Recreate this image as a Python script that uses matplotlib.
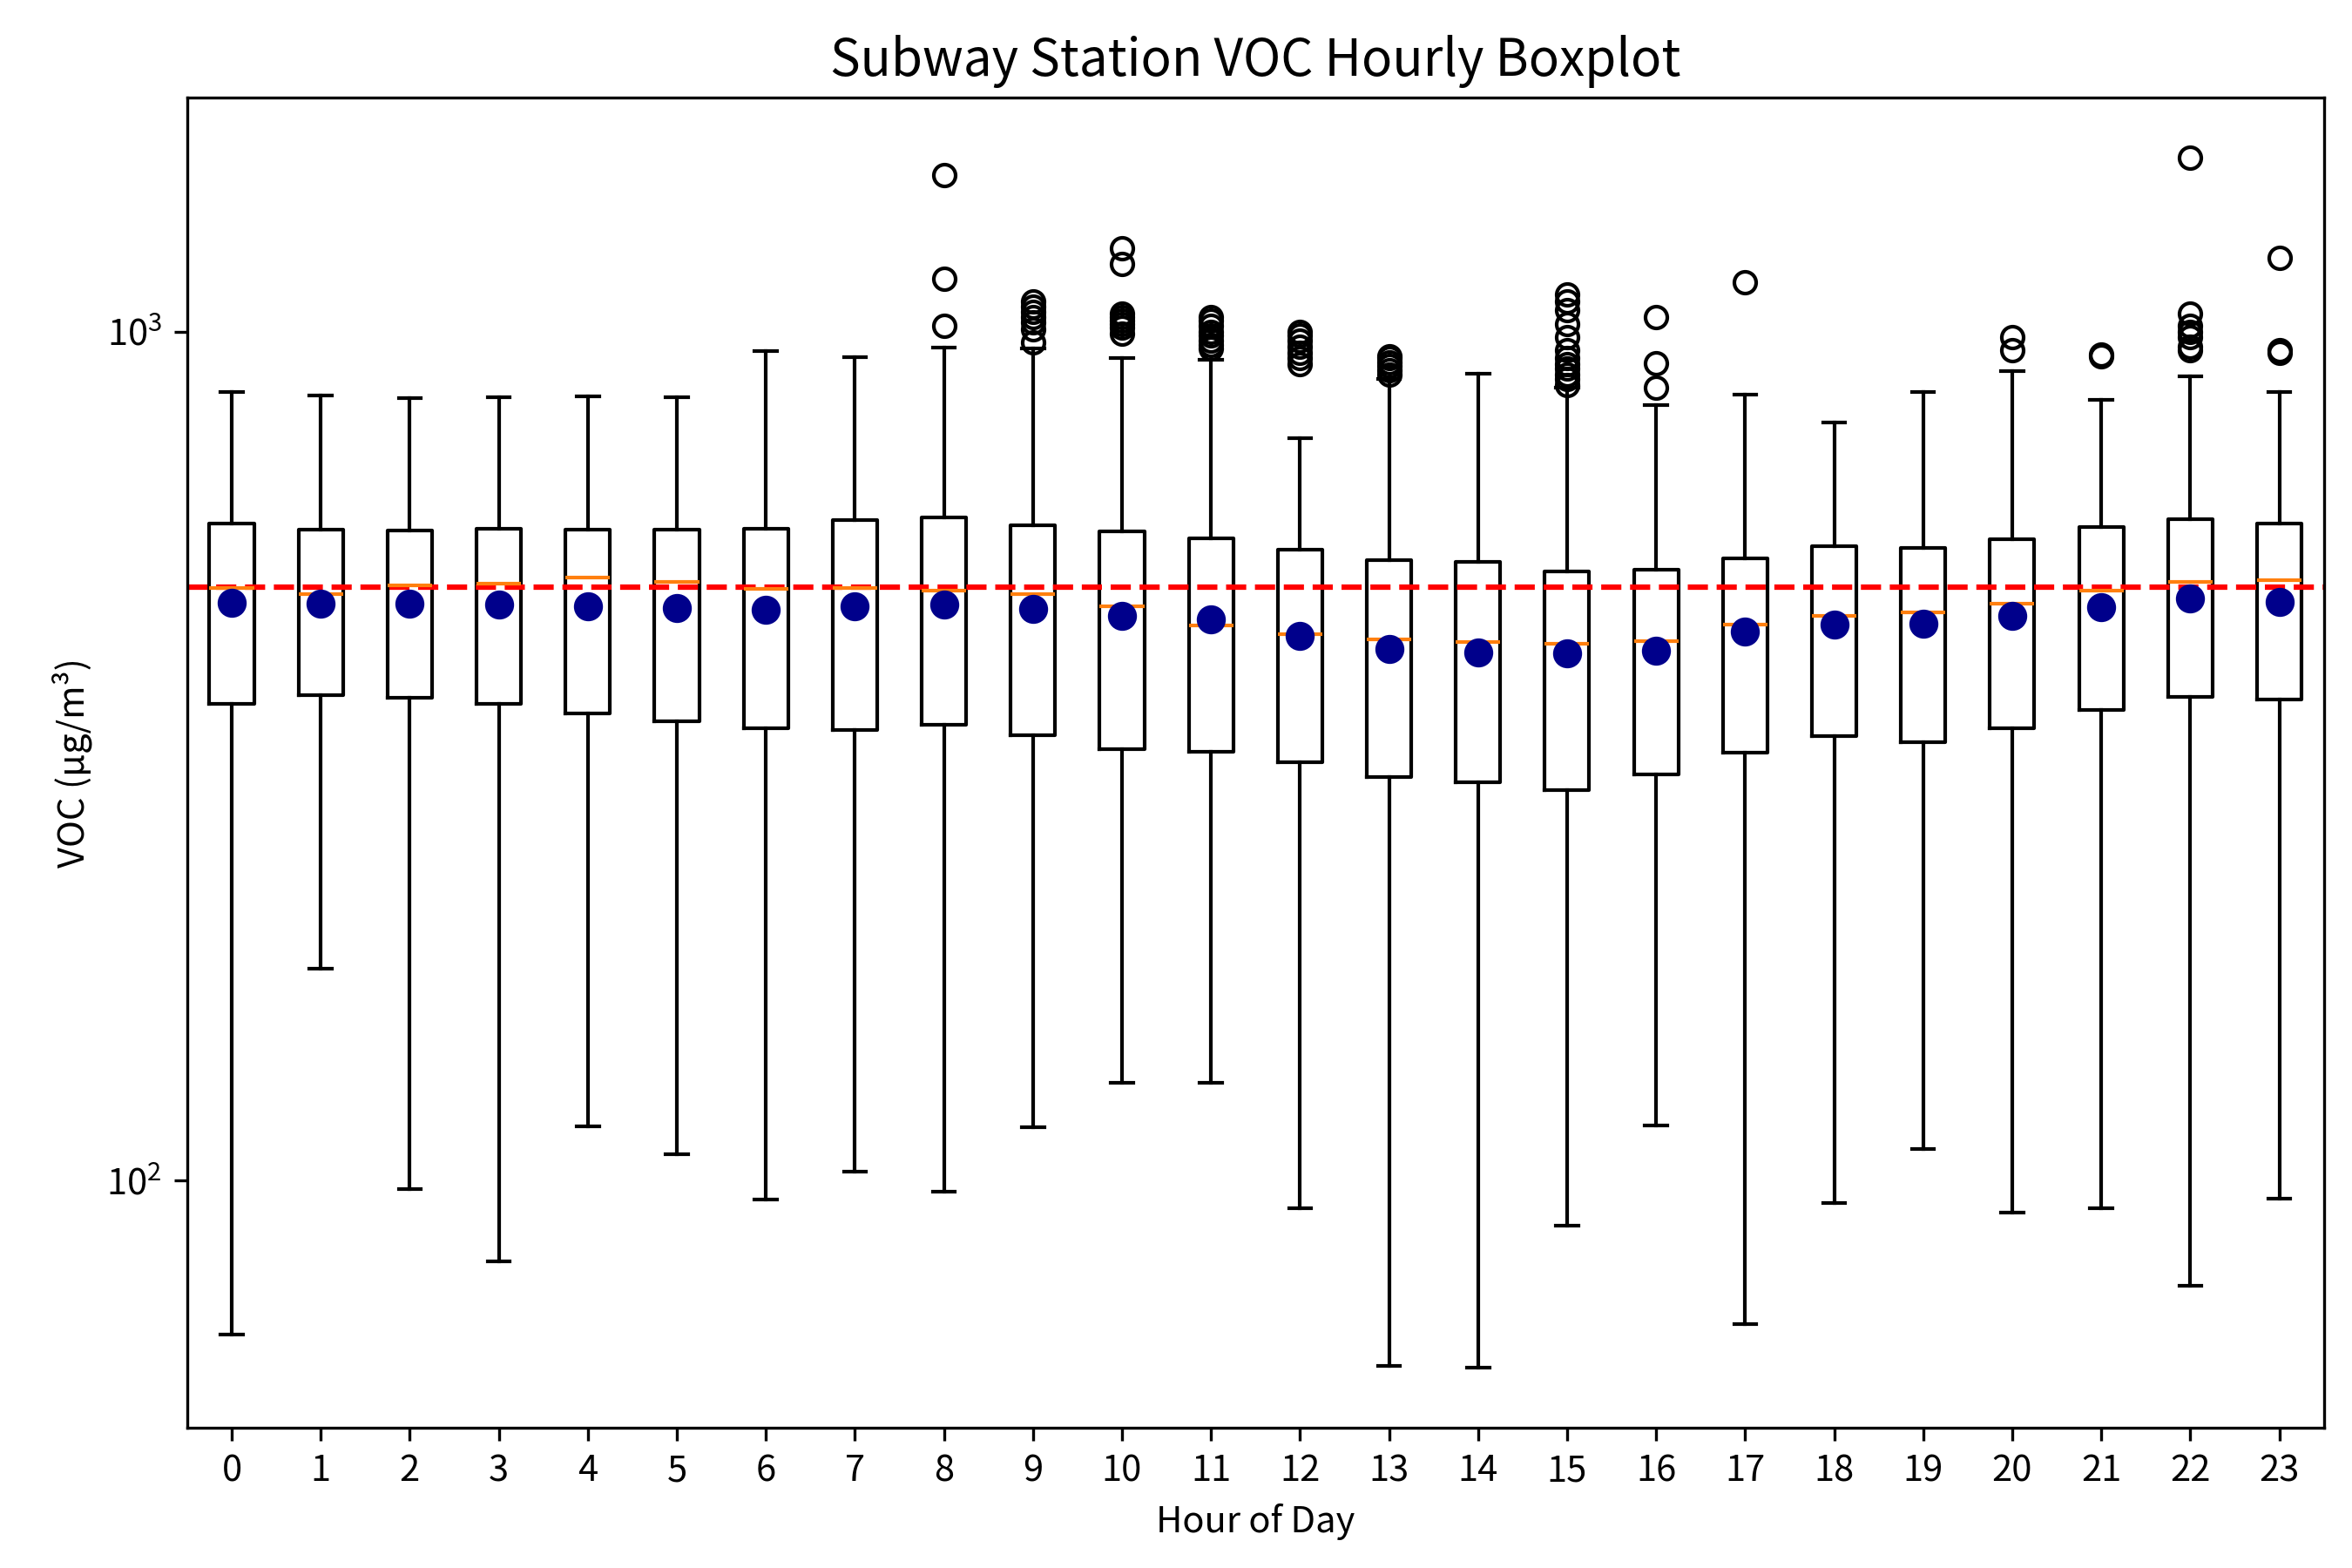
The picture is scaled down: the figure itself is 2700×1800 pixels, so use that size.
import matplotlib
matplotlib.use("Agg")
import matplotlib.pyplot as plt
from matplotlib.ticker import NullLocator

plt.rcParams['font.family'] = ['Noto Sans CJK KR', 'DejaVu Sans']
plt.rcParams['axes.unicode_minus'] = False

hours = list(range(24))
whisker_low = [65.9, 177.8, 97.8, 80.4, 116, 107.5, 95.1, 102.4, 97.1, 115.5, 130.5, 130.5,
               92.9, 60.6, 60.3, 88.6, 116.3, 67.8, 94.1, 109, 91.7, 92.9, 75.2, 95.3]
q1 = [364, 372.7, 370.2, 364, 355, 347.8, 340.7, 339.1, 344.6, 334.5, 322.4, 320.2,
      310.7, 298.7, 294.5, 288.5, 300.8, 319.4, 333.7, 328.4, 340.7, 358.4, 371, 368.5]
medians = [498.5, 490.6, 502, 504.3, 513.7, 506.7, 497.5, 498.5, 495, 490.6, 475, 450.4,
           440.2, 434, 431, 429, 432, 451.4, 463, 467.4, 478.2, 495, 506.7, 509]
q3 = [594, 584.6, 583.3, 586, 584.6, 584.6, 586, 599.6, 603.8, 591.4, 582, 571,
      553, 538, 535.5, 522, 524.5, 540.3, 558.2, 555.6, 569.8, 588.8, 601, 594]
whisker_high = [849, 841.7, 835.7, 837.5, 839.6, 837.5, 949, 933.7, 957.6, 955, 931.4, 927,
                748, 880, 891.7, 859, 818.6, 843.7, 781.6, 849.5, 898, 830, 885.5, 849.5]
means = [479.4, 478.2, 478, 477, 475, 472.8, 470.6, 475, 477, 471.8, 463, 457.7,
         438, 423, 419.3, 417.5, 421.2, 443, 451.4, 452.4, 463, 474, 485, 480.5]
outliers = [
    [], [], [], [], [], [], [], [],
    [1014.6, 1154, 1529],
    [970, 1005, 1025, 1040, 1055, 1070, 1085],
    [995, 1010, 1020, 1030, 1040, 1050, 1200, 1254],
    [955, 965, 975, 990, 1000, 1015, 1030, 1040],
    [915, 930, 945, 960, 975, 990, 1000],
    [890, 900, 910, 920, 930, 935],
    [],
    [865, 880, 890, 905, 915, 930, 950, 985, 1020, 1060, 1085, 1105],
    [858, 918, 1040],
    [1144],
    [],
    [],
    [950, 985],
    [935, 940],
    [950, 960, 985, 1000, 1015, 1050, 1602],
    [945, 950, 1220],
]
threshold = 500

stats = []
for i, h in enumerate(hours):
    stats.append(dict(label=str(h), whislo=whisker_low[i], q1=q1[i], med=medians[i],
                      q3=q3[i], whishi=whisker_high[i], fliers=outliers[i]))

fig, ax = plt.subplots(figsize=(9, 6), dpi=300)
ax.bxp(stats, positions=hours, widths=0.5, showfliers=True)
ax.plot(hours, means, 'o', color='darkblue', markersize=7, zorder=3)
ax.axhline(threshold, color='red', linestyle='--', linewidth=1.5)
ax.set_yscale('log')
ax.yaxis.set_minor_locator(NullLocator())
ax.set_xlim(-0.5, 23.5)
ax.set_xticks(hours)
ax.set_xticklabels([str(h) for h in hours])
ax.set_title('Subway Station VOC Hourly Boxplot', fontsize=14)
ax.set_xlabel('Hour of Day')
ax.set_ylabel('VOC (μg/m³)')
fig.subplots_adjust(left=0.0796, right=0.988, bottom=0.0894, top=0.938)
fig.savefig('out.png', dpi=300)
